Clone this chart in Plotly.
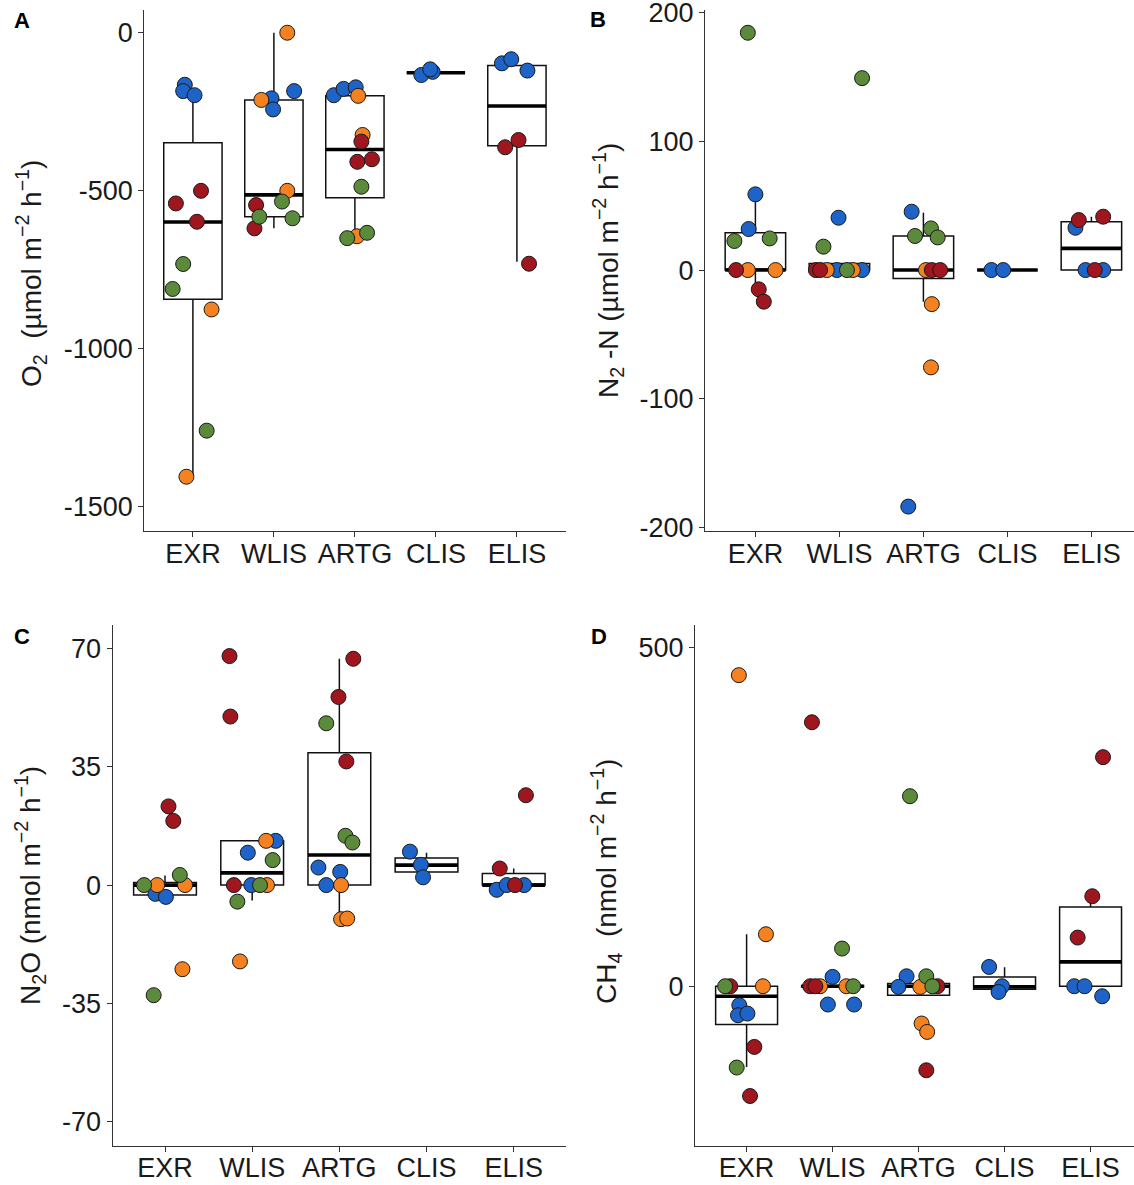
import plotly.graph_objects as go

W, H = 1134, 1185
CATS = ["EXR", "WLIS", "ARTG", "CLIS", "ELIS"]
COLORS = {"blue": "#1E64C8", "orange": "#F58220", "red": "#A0161E", "green": "#5A8A3A"}

# ---------------- Panel A : O2 ----------------
a_site = ["EXR"] * 11 + ["WLIS"] * 11 + ["ARTG"] * 12 + ["CLIS"] * 3 + ["ELIS"] * 6
a_col = (["blue"] * 3 + ["red"] * 3 + ["green"] * 3 + ["orange"] * 2
         + ["orange"] * 3 + ["blue"] * 3 + ["red"] * 2 + ["green"] * 3
         + ["blue"] * 3 + ["orange"] * 3 + ["red"] * 3 + ["green"] * 3
         + ["blue"] * 3
         + ["blue"] * 3 + ["red"] * 3)
a_val = [-165, -185, -198, -501, -541, -599, -733, -812, -1261, -877, -1407,
         0, -213, -501, -208, -243, -185, -546, -620, -535, -583, -588,
         -198, -178, -173, -200, -324, -645, -345, -409, -401, -488, -651, -634,
         -134, -124, -116,
         -97, -84, -120, -363, -340, -732]
a_jit = [-0.10, -0.12, 0.02, 0.10, -0.21, 0.05, -0.12, -0.25, 0.17, 0.23, -0.08,
         0.165, -0.155, 0.165, -0.03, -0.01, 0.25, -0.22, -0.24, 0.10, -0.18, 0.23,
         -0.26, -0.14, 0.01, 0.04, 0.095, 0.025, 0.08, 0.03, 0.21, 0.08, -0.095, 0.15,
         -0.18, -0.04, -0.07,
         -0.185, -0.07, 0.13, -0.145, 0.02, 0.15]
a_q1 = [-845, -583, -523, -127, -358]
a_med = [-600, -514, -370, -127, -232]
a_q3 = [-349, -213, -200, -127, -104]
a_lo = [-1400, -620, -640, -127, -726]
a_hi = [-190, 0, -200, -127, -104]
a_ticks = [0, -500, -1000, -1500]
a_ticktext = ["0", "-500", "-1000", "-1500"]

# ---------------- Panel B : N2-N ----------------
b_site = ["EXR"] * 10 + ["WLIS"] * 10 + ["ARTG"] * 10 + ["CLIS"] * 2 + ["ELIS"] * 6
b_col = (["green"] * 3 + ["blue"] * 2 + ["red"] * 3 + ["orange"] * 2
         + ["green"] * 3 + ["blue"] * 3 + ["red"] * 2 + ["orange"] * 2
         + ["blue"] * 2 + ["green"] * 3 + ["orange"] * 3 + ["red"] * 2
         + ["blue"] * 2
         + ["red"] * 3 + ["blue"] * 3)
b_val = [184.6, 22.6, 24.6, 58.9, 31.9, 0, -15, -24.6, 0, 0,
         149.3, 18.2, 0, 40.7, 0, 0, 0, 0, 0, 0,
         45.4, -184, 26.5, 32.4, 25.4, 0, -26.5, -75.7, 0, 0,
         0, 0,
         38.9, 41.5, 0, 32.9, 0, 0]
b_jit = [-0.09, -0.25, 0.17, 0.0, -0.08, -0.23, 0.04, 0.10, -0.09, 0.24,
         0.27, -0.19, 0.09, -0.01, -0.03, 0.27, -0.28, -0.23, -0.15, 0.16,
         -0.14, -0.18, -0.10, 0.09, 0.17, 0.03, 0.10, 0.09, 0.10, 0.20,
         -0.19, -0.05,
         -0.15, 0.14, 0.04, -0.19, -0.07, 0.14]
b_q1 = [0, 0, -6.5, 0, 0]
b_med = [0, 0, 0, 0, 16.9]
b_q3 = [29, 5, 26.5, 0, 37.6]
b_lo = [-15, 0, -24.6, 0, 0]
b_hi = [59, 5, 44.6, 0, 41.5]
b_ticks = [200, 100, 0, -100, -200]
b_ticktext = ["200", "100", "0", "-100", "-200"]

# ---------------- Panel C : N2O ----------------
c_site = ["EXR"] * 10 + ["WLIS"] * 12 + ["ARTG"] * 12 + ["CLIS"] * 3 + ["ELIS"] * 6
c_col = (["red"] * 2 + ["green"] * 3 + ["orange"] * 3 + ["blue"] * 2
         + ["red"] * 3 + ["blue"] * 3 + ["orange"] * 3 + ["green"] * 3
         + ["red"] * 3 + ["green"] * 3 + ["blue"] * 3 + ["orange"] * 3
         + ["blue"] * 3
         + ["red"] * 3 + ["blue"] * 3)
c_val = [23.3, 19, 0, 3.0, -32.6, 0, 0, -24.9, -2.6, -3.5,
         67.8, 49.9, 0, 9.6, 13.1, 0, 13.1, 0, -22.6, 7.4, 0, -4.9,
         67, 55.7, 36.6, 47.9, 14.6, 12.6, 5.2, 3.9, 0, 0, -10.1, -9.9,
         9.9, 6.0, 2.3,
         26.6, 4.9, 0, -1.4, 0, 0]
c_jit = [0.04, 0.095, -0.24, 0.17, -0.13, -0.09, 0.23, 0.20, -0.11, 0.01,
         -0.26, -0.25, -0.21, -0.05, 0.27, -0.01, 0.16, 0.17, -0.14, 0.235, 0.09, -0.17,
         0.16, -0.01, 0.08, -0.15, 0.07, 0.15, -0.24, 0.01, -0.15, 0.02, 0.02, 0.09,
         -0.19, -0.065, -0.04,
         0.14, -0.16, 0.015, -0.195, -0.08, 0.12]
c_q1 = [-2.9, 0, 0, 3.9, 0]
c_med = [0, 3.6, 8.9, 5.9, 0]
c_q3 = [0.8, 13.1, 39.2, 8.0, 3.4]
c_lo = [-2.9, -4.6, -10, 3.9, 0]
c_hi = [2.8, 13.1, 67, 9.6, 4.9]
c_ticks = [70, 35, 0, -35, -70]
c_ticktext = ["70", "35", "0", "-35", "-70"]

# ---------------- Panel D : CH4 ----------------
d_site = ["EXR"] * 11 + ["WLIS"] * 10 + ["ARTG"] * 10 + ["CLIS"] * 3 + ["ELIS"] * 6
d_col = (["orange"] * 3 + ["green"] * 2 + ["red"] * 3 + ["blue"] * 3
         + ["red"] * 3 + ["green"] * 2 + ["blue"] * 3 + ["orange"] * 2
         + ["green"] * 3 + ["blue"] * 2 + ["orange"] * 3 + ["red"] * 2
         + ["blue"] * 3
         + ["red"] * 3 + ["blue"] * 3)
d_val = [459, 76.7, 0, 0, -120, 0, -89.5, -162, -28, -42.8, -40.3,
         389.5, 0, 0, 55.6, 0, 13.8, -27, -27, 0, 0,
         280.4, 14.7, 0, 14.7, -1, -1, -55, -67.4, 0, -124,
         28.5, 0, -8.4,
         338, 132.8, 71.8, 0, 0, -14.8]
d_jit = [-0.09, 0.225, 0.19, -0.25, -0.115, -0.19, 0.09, 0.04, -0.085, -0.10, 0.01,
         -0.24, -0.26, -0.20, 0.11, 0.24, 0.0, -0.055, 0.25, -0.145, 0.16,
         -0.10, 0.09, 0.16, -0.14, -0.235, 0.02, 0.035, 0.10, 0.22, 0.09,
         -0.18, -0.03, -0.07,
         0.145, 0.02, -0.15, -0.19, -0.07, 0.135]
d_q1 = [-56.6, -1, -13.3, -4.4, 0]
d_med = [-14.8, 0, 0, -1, 35.9]
d_q3 = [0, 1, 4, 13.8, 117]
d_lo = [-119, -1, -13.3, -4.4, 0]
d_hi = [76.7, 1, 4, 28, 132.8]
d_ticks = [500, 0]
d_ticktext = ["500", "0"]

# ---------------- layout geometry (pixels) ----------------
BOXW = 0.72
FONT = "Liberation Sans, Arial, sans-serif"
TXT = "#1a1a1a"
TICKFS = 27
TITLEFS = 28

panels = [
    dict(key="A", site=a_site, col=a_col, val=a_val, jit=a_jit,
         q1=a_q1, med=a_med, q3=a_q3, lo=a_lo, hi=a_hi,
         ticks=a_ticks, ticktext=a_ticktext,
         xpx=(144.3, 565.5), ypx=(10, 531), xr=[0.4, 5.6], yr=[-1579, 72],
         title="O<sub>2</sub>  (µmol m<sup>−2</sup> h<sup>−1</sup>)", tpos=(31, 274), lpos=(22, 21)),
    dict(key="B", site=b_site, col=b_col, val=b_val, jit=b_jit,
         q1=b_q1, med=b_med, q3=b_q3, lo=b_lo, hi=b_hi,
         ticks=b_ticks, ticktext=b_ticktext,
         xpx=(705, 1134), ypx=(10, 531), xr=[0.4, 5.507], yr=[-203, 202.3],
         title="N<sub>2</sub> -N (µmol m<sup>−2</sup> h<sup>−1</sup>)", tpos=(608, 271), lpos=(598, 19)),
    dict(key="C", site=c_site, col=c_col, val=c_val, jit=c_jit,
         q1=c_q1, med=c_med, q3=c_q3, lo=c_lo, hi=c_hi,
         ticks=c_ticks, ticktext=c_ticktext,
         xpx=(112.7, 566), ypx=(625, 1145.5), xr=[0.4, 5.6], yr=[-77.1, 77],
         title="N<sub>2</sub>O (nmol m<sup>−2</sup> h<sup>−1</sup>)", tpos=(30, 886), lpos=(22, 636)),
    dict(key="D", site=d_site, col=d_col, val=d_val, jit=d_jit,
         q1=d_q1, med=d_med, q3=d_q3, lo=d_lo, hi=d_hi,
         ticks=d_ticks, ticktext=d_ticktext,
         xpx=(695, 1134), ypx=(625, 1145.5), xr=[0.4, 5.505], yr=[-235, 533],
         title="CH<sub>4</sub>  (nmol m<sup>−2</sup> h<sup>−1</sup>)", tpos=(606, 882), lpos=(599, 636)),
]

fig = go.Figure()
layout = dict(width=W, height=H, margin=dict(l=0, r=0, t=0, b=0, autoexpand=False),
              paper_bgcolor="white", plot_bgcolor="white", showlegend=False,
              font=dict(family=FONT, size=TICKFS, color=TXT))
annotations = []

for i, p in enumerate(panels):
    n = "" if i == 0 else str(i + 1)
    xa, ya = "x" + n, "y" + n
    pos = list(range(1, len(CATS) + 1))

    # boxes from summary statistics
    fig.add_trace(go.Box(
        x=pos, q1=p["q1"], median=p["med"], q3=p["q3"],
        lowerfence=p["lo"], upperfence=p["hi"],
        width=BOXW, whiskerwidth=0, boxpoints=False,
        fillcolor="white", line=dict(color="#111111", width=1.5),
        xaxis=xa, yaxis=ya, hoverinfo="skip"))
    # thick median bars
    mx, my = [], []
    for k, m in enumerate(p["med"]):
        mx += [pos[k] - BOXW / 2, pos[k] + BOXW / 2, None]
        my += [m, m, None]
    fig.add_trace(go.Scatter(x=mx, y=my, mode="lines",
                             line=dict(color="#000000", width=3.6),
                             xaxis=xa, yaxis=ya, hoverinfo="skip"))
    # jittered points
    for cname in ["blue", "orange", "red", "green"]:
        xs, ys = [], []
        for s, c, v, j in zip(p["site"], p["col"], p["val"], p["jit"]):
            if c == cname:
                xs.append(CATS.index(s) + 1 + j)
                ys.append(v)
        fig.add_trace(go.Scatter(
            x=xs, y=ys, mode="markers",
            marker=dict(size=15, color=COLORS[cname],
                        line=dict(color="#1a1a1a", width=1)),
            xaxis=xa, yaxis=ya, hoverinfo="skip"))

    x0, x1 = p["xpx"]
    yt, yb = p["ypx"]
    layout["xaxis" + n] = dict(
        domain=[x0 / W, min(1.0, x1 / W)], range=p["xr"], anchor=ya,
        tickmode="array", tickvals=pos, ticktext=CATS, automargin=False,
        showline=True, linecolor="#333333", linewidth=1.3,
        ticks="outside", ticklen=5, tickwidth=1.3, tickcolor="#333333",
        showgrid=False, zeroline=False, fixedrange=True,
        ticklabeloverflow="allow", ticklabelstandoff=-7,
        tickfont=dict(size=TICKFS, color=TXT, family=FONT))
    layout["yaxis" + n] = dict(
        domain=[1 - yb / H, 1 - yt / H], range=p["yr"], anchor=xa,
        tickmode="array", tickvals=p["ticks"], ticktext=p["ticktext"], automargin=False,
        showline=True, linecolor="#333333", linewidth=1.3,
        ticks="outside", ticklen=5, tickwidth=1.3, tickcolor="#333333",
        showgrid=False, zeroline=False, fixedrange=True,
        ticklabeloverflow="allow",
        tickfont=dict(size=TICKFS, color=TXT, family=FONT))

    annotations.append(dict(
        text=p["title"], textangle=-90, xref="paper", yref="paper",
        x=p["tpos"][0] / W, y=1 - p["tpos"][1] / H, xanchor="center", yanchor="middle",
        showarrow=False, font=dict(size=TITLEFS, color=TXT, family=FONT)))
    annotations.append(dict(
        text="<b>" + p["key"] + "</b>", xref="paper", yref="paper",
        x=p["lpos"][0] / W, y=1 - p["lpos"][1] / H, xanchor="center", yanchor="middle",
        showarrow=False, font=dict(size=22, color="#000000", family=FONT)))

layout["annotations"] = annotations
fig.update_layout(**layout)
fig.write_html("out.html", config={"displayModeBar": False},
               post_script="document.body.style.margin='0';document.body.style.overflow='hidden';")
